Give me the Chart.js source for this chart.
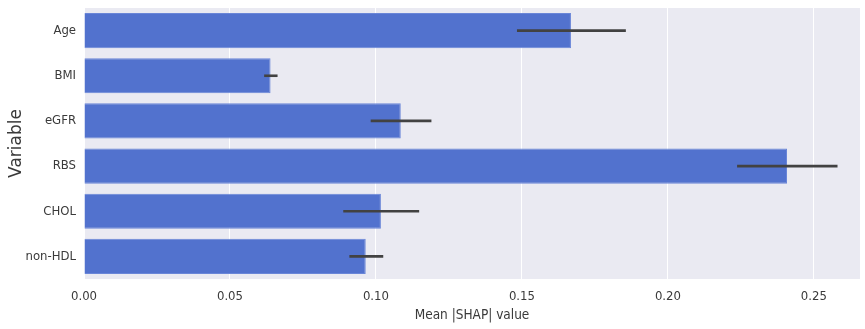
<!DOCTYPE html>
<html>
<head>
<meta charset="utf-8">
<script src="https://cdn.jsdelivr.net/npm/chart.js@4.4.1/dist/chart.umd.min.js"></script>
<style>
  html, body { margin: 0; padding: 0; background: #fff; }
  #wrap { width: 865px; height: 329px; }
</style>
</head>
<body>
<div id="wrap"><canvas id="myChart" width="865" height="329"></canvas></div>
<script>
// values
const variables = ['Age', 'BMI', 'eGFR', 'RBS', 'CHOL', 'non-HDL'];
const meanShap = [0.1668, 0.0639, 0.1085, 0.2408, 0.1017, 0.0965];
const errLow = [0.1483, 0.0617, 0.0982, 0.2237, 0.0888, 0.0909];
const errHigh = [0.1856, 0.0663, 0.1190, 0.2581, 0.1148, 0.1025];
const xTicks = [0, 0.05, 0.10, 0.15, 0.20, 0.25];

const tickFont = { family: "'DejaVu Sans Condensed', 'DejaVu Sans'", size: 13 };

// grey panel behind the bars, seaborn style
const panelBg = {
  id: 'panelBg',
  beforeDraw(chart) {
    const { ctx, chartArea: a } = chart;
    ctx.save();
    ctx.fillStyle = '#eaeaf2';
    ctx.fillRect(a.left, a.top, a.right - a.left, a.bottom - a.top);
    ctx.restore();
  }
};

// error bars from errLow / errHigh
const errorBars = {
  id: 'errorBars',
  afterDatasetsDraw(chart) {
    const { ctx } = chart;
    const x = chart.scales.x;
    const y = chart.scales.y;
    ctx.save();
    ctx.strokeStyle = '#424242';
    ctx.lineWidth = 2.6;
    ctx.lineCap = 'butt';
    variables.forEach((v, i) => {
      const yy = y.getPixelForValue(i);
      ctx.beginPath();
      ctx.moveTo(x.getPixelForValue(errLow[i]), yy);
      ctx.lineTo(x.getPixelForValue(errHigh[i]), yy);
      ctx.stroke();
    });
    ctx.restore();
  }
};

const ctx = document.querySelector('#myChart').getContext('2d');
const chart = new Chart(ctx, {
  type: 'bar',
  data: {
    labels: variables,
    datasets: [{
      label: 'Mean |SHAP| value',
      data: meanShap,
      backgroundColor: '#5272ce',
      borderColor: '#6a86d8',
      borderWidth: 1,
      categoryPercentage: 0.78,
      barPercentage: 1
    }]
  },
  options: {
    indexAxis: 'y',
    responsive: false,
    animation: false,
    layout: { padding: { top: 8, right: 5, left: 0, bottom: 0 } },
    plugins: {
      legend: { display: false },
      tooltip: { enabled: false }
    },
    scales: {
      x: {
        type: 'linear',
        min: 0,
        max: 0.2658,
        afterBuildTicks(scale) {
          scale.ticks = xTicks.map(v => ({ value: v }));
        },
        afterFit(scale) { scale.height = 50; },
        grid: { color: '#ffffff', lineWidth: 1, drawTicks: false },
        border: { display: false },
        ticks: {
          font: tickFont,
          color: '#3a3a3a',
          padding: 10,
          callback: v => v.toFixed(2)
        },
        title: {
          display: true,
          text: 'Mean |SHAP| value',
          font: { family: "'DejaVu Sans Condensed', 'DejaVu Sans'", size: 13.5 },
          color: '#3a3a3a',
          padding: { top: 0, bottom: 5 }
        }
      },
      y: {
        afterFit(scale) {
          scale.width = 84;
          scale.paddingTop = 0;
          scale.paddingBottom = 0;
        },
        grid: { display: false, drawTicks: false },
        border: { display: false },
        ticks: {
          font: tickFont,
          color: '#3a3a3a',
          padding: 8
        },
        title: {
          display: true,
          text: 'Variable',
          font: { family: 'DejaVu Sans', size: 17 },
          color: '#3a3a3a',
          padding: { top: 6, bottom: 4 }
        }
      }
    }
  },
  plugins: [panelBg, errorBars]
});
</script>
</body>
</html>
